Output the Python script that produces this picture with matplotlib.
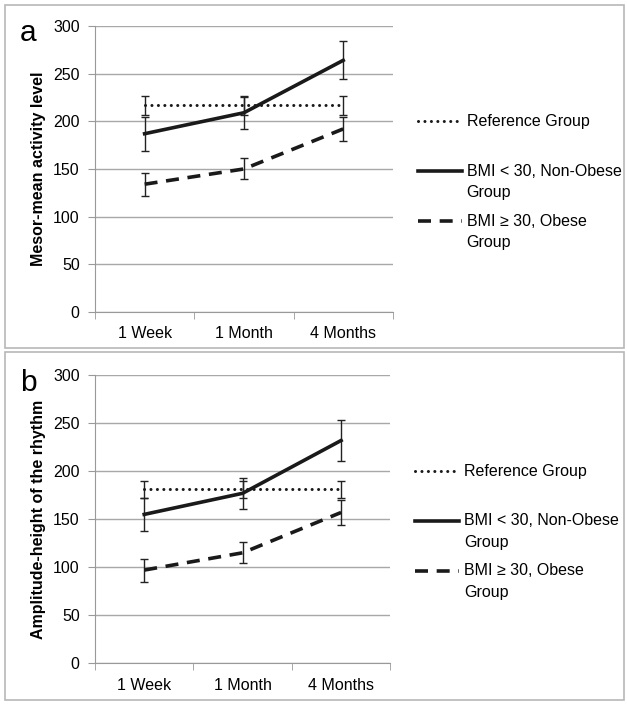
import matplotlib
matplotlib.use('Agg')
import matplotlib.pyplot as plt
from matplotlib.patches import Rectangle
from matplotlib.legend_handler import HandlerLine2D

plt.rcParams['font.family'] = ['Liberation Sans', 'DejaVu Sans']

categories = ['1 Week', '1 Month', '4 Months']

# panel a: mesor
mesor_ref = [217, 217, 217]
mesor_ref_err = [10, 10, 10]
mesor_nonobese = [187, 209, 264]
mesor_nonobese_err = [18, 17, 20]
mesor_obese = [134, 150, 192]
mesor_obese_err = [12, 11, 13]

# panel b: amplitude
amp_ref = [181, 181, 181]
amp_ref_err = [9, 9, 9]
amp_nonobese = [155, 177, 232]
amp_nonobese_err = [17, 16, 21]
amp_obese = [97, 115, 157]
amp_obese_err = [12, 11, 13]

# trailing newline keeps every legend entry two lines tall
labels = ['Reference Group\n', 'BMI < 30, Non-Obese\nGroup', 'BMI \u2265 30, Obese\nGroup']
yticks = [0, 50, 100, 150, 200, 250, 300]

FS = 11.5
LEG_LS = 1.55


class FirstLineHandler(HandlerLine2D):
    # put the legend line next to the first text line, not the middle
    def create_artists(self, legend, orig_handle, xdescent, ydescent,
                       width, height, fontsize, trans):
        return super().create_artists(legend, orig_handle, xdescent,
                                      ydescent - 1.38 * fontsize, width,
                                      height, fontsize, trans)


fig = plt.figure(figsize=(6.27, 7.04), dpi=100)
ax_a = fig.add_axes([0.1515, 0.557, 0.475, 0.406])
ax_b = fig.add_axes([0.1515, 0.058, 0.471, 0.409])

# panel borders
for y0, h in [(0.506, 0.487), (0.006, 0.494)]:
    fig.add_artist(Rectangle((0.008, y0), 0.988, h, transform=fig.transFigure,
                             fill=False, edgecolor='#b8b8b8', linewidth=1.2))

styles = [dict(linestyle=(0, (0.01, 2.1)), linewidth=2.2, dash_capstyle='round'),
          dict(linestyle='-', linewidth=2.6),
          dict(linestyle=(0, (3.6, 2.4)), linewidth=2.6)]


def draw(ax, series, errs, ylabel, letter):
    x = range(len(categories))
    handles = []
    for vals, err, st in zip(series, errs, styles):
        ax.errorbar(x, vals, yerr=err, fmt='none', ecolor='#222222',
                    elinewidth=1, capsize=3, capthick=1, zorder=3)
        h, = ax.plot(x, vals, color='#1a1a1a', zorder=4, **st)
        handles.append(h)
    ax.set_xlim(-0.5, 2.5)
    ax.set_ylim(0, 300)
    ax.set_yticks(yticks)
    ax.set_xticks(list(x))
    ax.set_xticklabels(categories, fontsize=FS)
    ax.set_xticks([-0.5, 0.5, 1.5, 2.5], minor=True)
    ax.tick_params(axis='x', which='major', length=0, pad=10.5)
    ax.tick_params(axis='x', which='minor', length=5, color='#999999', direction='out')
    ax.tick_params(axis='y', length=5, color='#999999', labelsize=FS, pad=6)
    ax.yaxis.grid(True, color='#a8a8a8', linewidth=1)
    ax.set_axisbelow(True)
    for s in ['top', 'right']:
        ax.spines[s].set_visible(False)
    for s in ['left', 'bottom']:
        ax.spines[s].set_color('#999999')
    ax.set_ylabel(ylabel, fontsize=FS, fontweight='bold', labelpad=5)
    ax.text(-0.252, 0.946, letter, transform=ax.transAxes, fontsize=21.5,
            va='baseline', ha='left')
    leg = ax.legend(handles, labels, loc='upper left', bbox_to_anchor=(1.084, 0.693),
                    frameon=False, fontsize=FS, handlelength=2.75, handletextpad=0.3,
                    labelspacing=0.83, borderaxespad=0, borderpad=0,
                    handler_map={h: FirstLineHandler() for h in handles})
    for t in leg.get_texts():
        t.set_linespacing(LEG_LS)


draw(ax_a, [mesor_ref, mesor_nonobese, mesor_obese],
     [mesor_ref_err, mesor_nonobese_err, mesor_obese_err],
     'Mesor-mean activity level', 'a')
draw(ax_b, [amp_ref, amp_nonobese, amp_obese],
     [amp_ref_err, amp_nonobese_err, amp_obese_err],
     'Amplitude-height of the rhythm', 'b')

fig.savefig('out.png', dpi=100)
